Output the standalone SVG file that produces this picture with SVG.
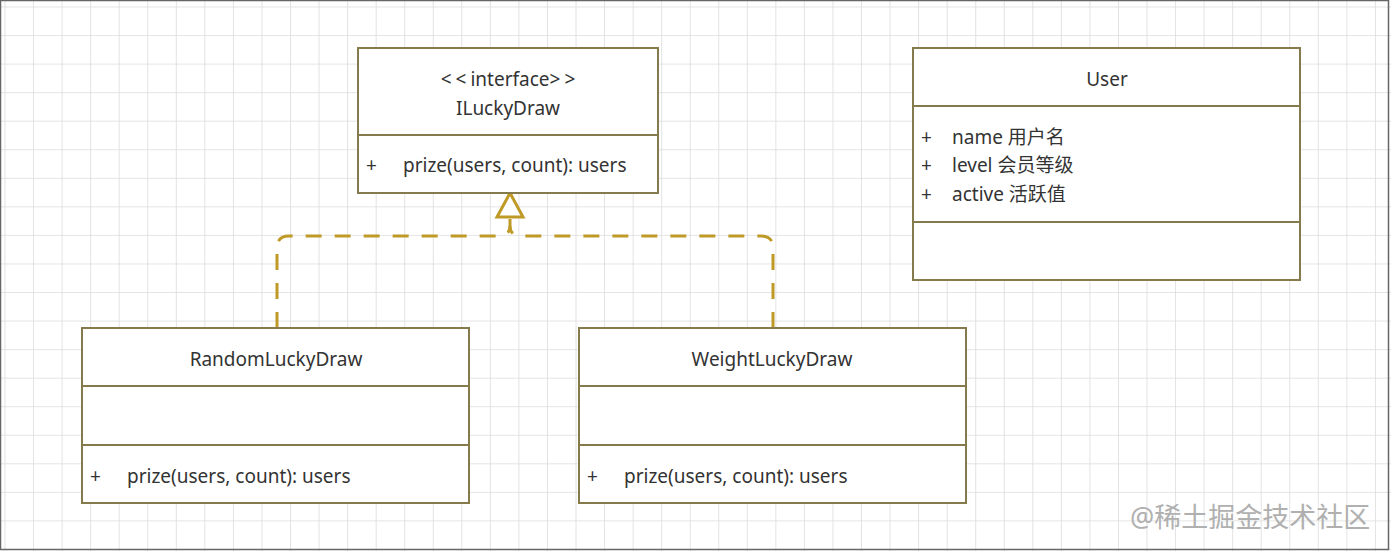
<svg xmlns="http://www.w3.org/2000/svg" width="1391" height="551" viewBox="0 0 1391 551">
<style>
.box{fill:#ffffff;stroke:#857a4c;stroke-width:2}
.div{stroke:#857a4c;stroke-width:2}
.t{font-family:"Noto Sans","Noto Sans CJK SC",sans-serif;font-size:19px;fill:#333333}
.c{text-anchor:middle}
.edge{fill:none;stroke:#bf9a26;stroke-width:3;stroke-dasharray:16 13}
.head{fill:#ffffff;stroke:#bf9a26;stroke-width:3}
</style>
<defs>
<pattern id="grid" x="5.5" y="7.5" width="28.55" height="28.55" patternUnits="userSpaceOnUse">
<path d="M28.55 0V28.55M0 28.55H28.55" fill="none" stroke="#dcdcdc" stroke-width="1.6"/>
</pattern>
</defs>
<rect width="1391" height="551" fill="#ffffff"/>
<rect width="1391" height="551" fill="url(#grid)"/>
<rect x="0.5" y="0.5" width="1388" height="549" fill="none" stroke="#666666" stroke-width="1.5"/>

<g id="connectors">
<path class="edge" d="M277 328V248Q277 236 289 236H498Q510 236 510 226V219"/>
<path class="edge" d="M773 328V248Q773 236 761 236H522Q510 236 510 226"/>
<path class="head" d="M510 193L497 217H523Z"/>
</g>

<g id="ILuckyDraw">
<rect class="box" x="358" y="48" width="300" height="145"/>
<line class="div" x1="358" y1="135" x2="658" y2="135"/>
<text class="t c" x="510" y="86"><tspan letter-spacing="4">&lt;&lt;</tspan>interface<tspan letter-spacing="4">&gt;&gt;</tspan></text>
<text class="t c" x="508" y="115">ILuckyDraw</text>
<text class="t" x="366" y="172">+</text>
<text class="t" x="403" y="172">prize(users, count): users</text>
</g>

<g id="User">
<rect class="box" x="913" y="48" width="387" height="232"/>
<line class="div" x1="913" y1="106" x2="1300" y2="106"/>
<line class="div" x1="913" y1="222" x2="1300" y2="222"/>
<text class="t c" x="1107" y="86">User</text>
<text class="t" x="921" y="144">+</text>
<text class="t" x="952" y="144">name 用户名</text>
<text class="t" x="921" y="172">+</text>
<text class="t" x="952" y="172">level 会员等级</text>
<text class="t" x="921" y="201">+</text>
<text class="t" x="952" y="201">active 活跃值</text>
</g>

<g id="RandomLuckyDraw">
<rect class="box" x="82" y="328" width="387" height="175"/>
<line class="div" x1="82" y1="386" x2="469" y2="386"/>
<line class="div" x1="82" y1="445" x2="469" y2="445"/>
<text class="t c" x="276" y="366">RandomLuckyDraw</text>
<text class="t" x="90" y="483">+</text>
<text class="t" x="127" y="483">prize(users, count): users</text>
</g>

<g id="WeightLuckyDraw">
<rect class="box" x="579" y="328" width="387" height="175"/>
<line class="div" x1="579" y1="386" x2="966" y2="386"/>
<line class="div" x1="579" y1="445" x2="966" y2="445"/>
<text class="t c" x="772" y="366">WeightLuckyDraw</text>
<text class="t" x="587" y="483">+</text>
<text class="t" x="624" y="483">prize(users, count): users</text>
</g>

<text x="1130" y="527" font-family="'Noto Sans','Noto Sans CJK SC',sans-serif" font-size="27" fill="#b0b0b0">@稀土掘金技术社区</text>
</svg>
